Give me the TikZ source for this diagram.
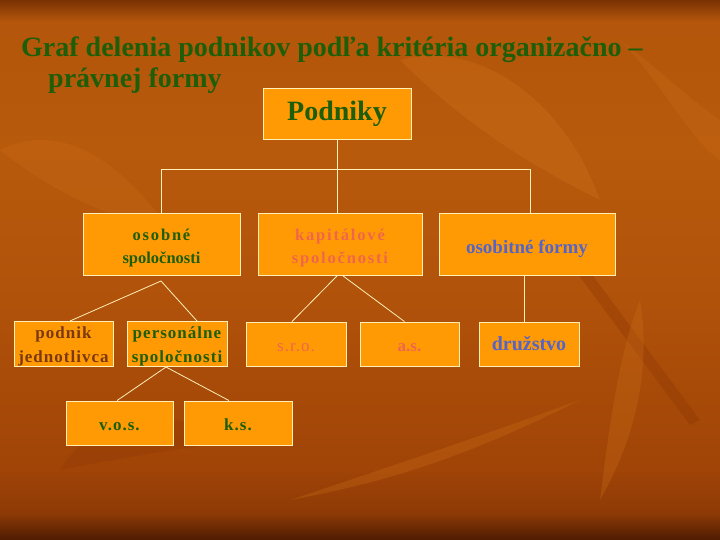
\documentclass[tikz,border=0pt]{standalone}
\usepackage{fontspec}
\setmainfont{Liberation Serif}
\newfontfamily\spacedfont[LetterSpace=6]{Liberation Serif}
\newfontfamily\widefont[LetterSpace=11]{Liberation Serif}
\usetikzlibrary{calc}
\newcommand\mystrut[1]{\rule{0pt}{#1}}
\definecolor{boxfill}{HTML}{FF9A05}
\definecolor{boxline}{HTML}{FFF0B8}
\definecolor{tgreen}{HTML}{1E5E08}
\definecolor{tcoral}{HTML}{F0664A}
\definecolor{tblue}{HTML}{5664C6}
\definecolor{tbrown}{HTML}{7A3810}
\definecolor{bgA}{HTML}{4E1C02}
\definecolor{bgB}{HTML}{8E3A06}
\definecolor{bgC}{HTML}{A04407}
\definecolor{bgD}{HTML}{B0520A}
\definecolor{bgE}{HTML}{B85A0C}
\definecolor{bgF}{HTML}{B4560B}
\definecolor{bgG}{HTML}{7A3204}
\definecolor{leafL}{HTML}{CC7018}
\definecolor{leafD}{HTML}{8E3604}
\pgfdeclareverticalshading{bgshade}{100bp}{color(0bp)=(bgA); color(25bp)=(bgA); color(27.5bp)=(bgB); color(31.5bp)=(bgC); color(47bp)=(bgD); color(61bp)=(bgE); color(73bp)=(bgF); color(75bp)=(bgG); color(100bp)=(bgG)}
\begin{document}
\begin{tikzpicture}[x=1pt,y=-1pt,
  box/.style={draw=boxline, line width=0.9pt, fill=boxfill, inner sep=0pt, align=center},
  midtxt/.style={font=\bfseries\fontsize{16.5}{23}\selectfont},
  lowtxt/.style={font=\spacedfont\bfseries\fontsize{17}{24}\selectfont},
  conn/.style={draw=boxline, line width=0.8pt}]
\useasboundingbox (0,0) rectangle (720,540);
\shade[shading=bgshade] (0,0) rectangle (720,540);
% faint background leaves
\fill[leafL, opacity=0.35] (400,60) .. controls (470,40) and (560,90) .. (600,200) .. controls (540,170) and (470,130) .. (400,60) -- cycle;
\fill[leafL, opacity=0.25] (0,150) .. controls (60,120) and (120,160) .. (170,230) .. controls (110,220) and (50,190) .. (0,150) -- cycle;
\fill[leafD, opacity=0.35] (560,250) -- (570,245) -- (700,420) -- (690,425) -- cycle;
\fill[leafL, opacity=0.3] (290,500) .. controls (380,470) and (470,440) .. (580,400) .. controls (480,450) and (400,480) .. (290,500) -- cycle;
\fill[leafL, opacity=0.3] (600,500) .. controls (610,420) and (620,350) .. (640,300) .. controls (650,360) and (640,430) .. (600,500) -- cycle;
\fill[leafD, opacity=0.3] (60,470) .. controls (90,420) and (160,400) .. (240,440) .. controls (170,450) and (110,460) .. (60,470) -- cycle;
\fill[leafL, opacity=0.25] (620,40) .. controls (660,80) and (690,140) .. (720,160) -- (720,120) .. controls (690,100) and (660,70) .. (620,40) -- cycle;
% title
\node[anchor=base west, text=tgreen, font=\bfseries\fontsize{28}{31}\selectfont, inner sep=0pt] (t1) at (21,57) {Graf delenia podnikov podľa kritéria organizačno –};
\node[anchor=base west, text=tgreen, font=\bfseries\fontsize{28}{31}\selectfont, inner sep=0pt] (t2) at (48,88) {právnej formy};
% nodes
\node[box, minimum width=148pt, minimum height=51pt, text=tgreen, font=\bfseries\fontsize{28}{32}\selectfont] (pod) at (337,113.5) {Podniky};
\node[box, midtxt, minimum width=157pt, minimum height=62pt, text=tgreen] (oso) at (161.5,244.5) {\mystrut{19pt}{\widefont\bfseries osobné}\\spoločnosti};
\node[box, midtxt, minimum width=164pt, minimum height=62pt, text=tcoral] (kap) at (340,244.5) {\widefont\bfseries\mystrut{19pt}kapitálové\\\widefont\bfseries spoločnosti};
\node[box, minimum width=176pt, minimum height=62pt, text=tblue, font=\bfseries\fontsize{19}{22}\selectfont] (osf) at (527,244.5) {\mystrut{23pt}osobitné formy};
\node[box, lowtxt, minimum width=99pt, minimum height=44pt, text=tbrown] (pj) at (63.5,344) {\mystrut{17.5pt}podnik\\jednotlivca};
\node[box, lowtxt, minimum width=100pt, minimum height=44pt, text=tgreen] (pers) at (177,344) {\mystrut{17.5pt}personálne\\spoločnosti};
\node[box, minimum width=100pt, minimum height=44pt, text=tcoral, font=\spacedfont\fontsize{17}{22}\selectfont] (sro) at (296,344) {\mystrut{15pt}s.r.o.};
\node[box, minimum width=99pt, minimum height=44pt, text=tcoral, font=\bfseries\fontsize{17}{22}\selectfont] (as) at (409.5,344) {\mystrut{15pt}a.s.};
\node[box, minimum width=100pt, minimum height=44pt, text=tblue, font=\bfseries\fontsize{20}{22}\selectfont] (druz) at (529,344) {družstvo};
\node[box, minimum width=107pt, minimum height=44pt, text=tgreen, font=\spacedfont\bfseries\fontsize{17}{22}\selectfont] (vos) at (119.5,423) {\mystrut{15pt}v.o.s.};
\node[box, minimum width=108pt, minimum height=44pt, text=tgreen, font=\spacedfont\bfseries\fontsize{17}{22}\selectfont] (ks) at (238,423) {\mystrut{15pt}k.s.};
% connectors
\coordinate (hl) at (161,169);
\coordinate (hr) at (530,169);
\coordinate (oa) at (161,281);
\draw[conn] (pod.south) -- (pod.south |- kap.north);
\draw[conn] (oso.north -| hl) -- (hl) -- (hr) -- (hr |- osf.north);
\draw[conn] ([xshift=6.5pt]pj.north) -- (oa) -- ([xshift=20pt]pers.north);
\draw[conn] ([xshift=-3pt]kap.south) -- ([xshift=-4pt]sro.north);
\draw[conn] ([xshift=3pt]kap.south) -- ([xshift=-5pt]as.north);
\draw[conn] ([xshift=-3pt]osf.south) -- ([xshift=-5pt]druz.north);
\draw[conn] ([xshift=-2.5pt]vos.north) -- ([xshift=-11pt]pers.south) -- ([xshift=-9pt]ks.north);
\end{tikzpicture}
\end{document}
